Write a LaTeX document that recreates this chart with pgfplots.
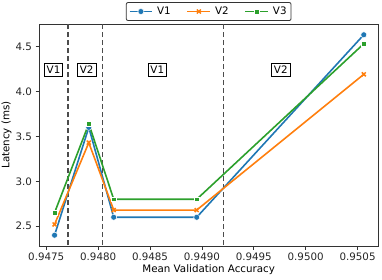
\documentclass[border=0pt]{standalone}
\usepackage{fontspec}
\setmainfont{DejaVu Sans}
\usepackage{pgfplots}
\pgfplotsset{compat=1.18}
\definecolor{c1}{HTML}{1F77B4}
\definecolor{c2}{HTML}{FF7F0E}
\definecolor{c3}{HTML}{2CA02C}
\newcommand{\fs}{\fontsize{10.3}{12}\selectfont}
\begin{document}
\begin{tikzpicture}
\begin{axis}[
  scale only axis,
  width=339.3pt, height=222pt,
  xmin=0.94743, xmax=0.95070,
  ymin=2.28, ymax=4.75,
  xtick={0.9475,0.948,0.9485,0.949,0.9495,0.95,0.9505},
  ytick={2.5,3,3.5,4,4.5},
  scaled x ticks=false,
  x tick label style={/pgf/number format/.cd,fixed,fixed zerofill,precision=4},
  y tick label style={/pgf/number format/.cd,fixed,fixed zerofill,precision=1},
  /pgf/number format/assume math mode=true,
  tick label style={font=\fs, black!85},
  label style={font=\fs},
  tick align=outside, tick pos=left,
  major tick length=3.5pt,
  every tick/.style={black!80, line width=0.8pt},
  axis line style={black!80, line width=0.8pt},
  xlabel={Mean Validation Accuracy},
  ylabel={Latency (ms)},
  xlabel style={at={(axis description cs:0.5,0)}, anchor=north, yshift=-15pt},
  ylabel style={at={(axis description cs:0,0.5)}, anchor=south, yshift=24pt},
  legend columns=3,
  legend style={at={(0.5,1.0)}, anchor=south, yshift=3pt, font=\fs,
    draw=black!80, rounded corners=2pt, line width=0.8pt, inner sep=2.5pt,
    /tikz/every odd column/.append style={column sep=2pt},
    /tikz/every even column/.append style={column sep=14pt}},
  legend image code/.code={
    \draw[#1, mark repeat=2, mark phase=2] plot coordinates {(0cm,0cm) (0.4cm,0cm) (0.8cm,0cm)};},
]
\addplot[black!70, dash pattern=on 5.5pt off 2.5pt, line width=1.3pt, forget plot] coordinates {(0.94771,2.2) (0.94771,4.8)};
\addplot[black!70, dash pattern=on 5.5pt off 2.5pt, line width=1.3pt, forget plot] coordinates {(0.94804,2.2) (0.94804,4.8)};
\addplot[black!70, dash pattern=on 5.5pt off 2.5pt, line width=1.3pt, forget plot] coordinates {(0.94921,2.2) (0.94921,4.8)};
\addplot[c1, line width=1.6pt, mark=*, mark size=3pt, mark options={fill=c1, draw=white, line width=0.5pt}] coordinates {
(0.94758,2.40) (0.94791,3.60) (0.94815,2.60) (0.94895,2.60) (0.95056,4.63)};
\addlegendentry{V1}
\addplot[c2, line width=1.6pt, mark=x, mark size=2.8pt, mark options={c2, line width=1.5pt}] coordinates {
(0.94758,2.52) (0.94791,3.43) (0.94815,2.68) (0.94895,2.68) (0.95056,4.19)};
\addlegendentry{V2}
\addplot[c3, line width=1.6pt, mark=square*, mark size=2.2pt, mark options={fill=c3, draw=white, line width=0.4pt}] coordinates {
(0.94758,2.65) (0.94791,3.64) (0.94815,2.80) (0.94895,2.80) (0.95056,4.53)};
\addlegendentry{V3}
\node[draw=black, fill=white, line width=0.8pt, inner sep=2.5pt, font=\fs] at (axis cs:0.94757,4.24) {V1};
\node[draw=black, fill=white, line width=0.8pt, inner sep=2.5pt, font=\fs] at (axis cs:0.94789,4.24) {V2};
\node[draw=black, fill=white, line width=0.8pt, inner sep=2.5pt, font=\fs] at (axis cs:0.94857,4.24) {V1};
\node[draw=black, fill=white, line width=0.8pt, inner sep=2.5pt, font=\fs] at (axis cs:0.94976,4.24) {V2};
\end{axis}
\pgfresetboundingbox
\path[use as bounding box] (-39pt,-33pt) rectangle (343pt,246pt);
\end{tikzpicture}
\end{document}
